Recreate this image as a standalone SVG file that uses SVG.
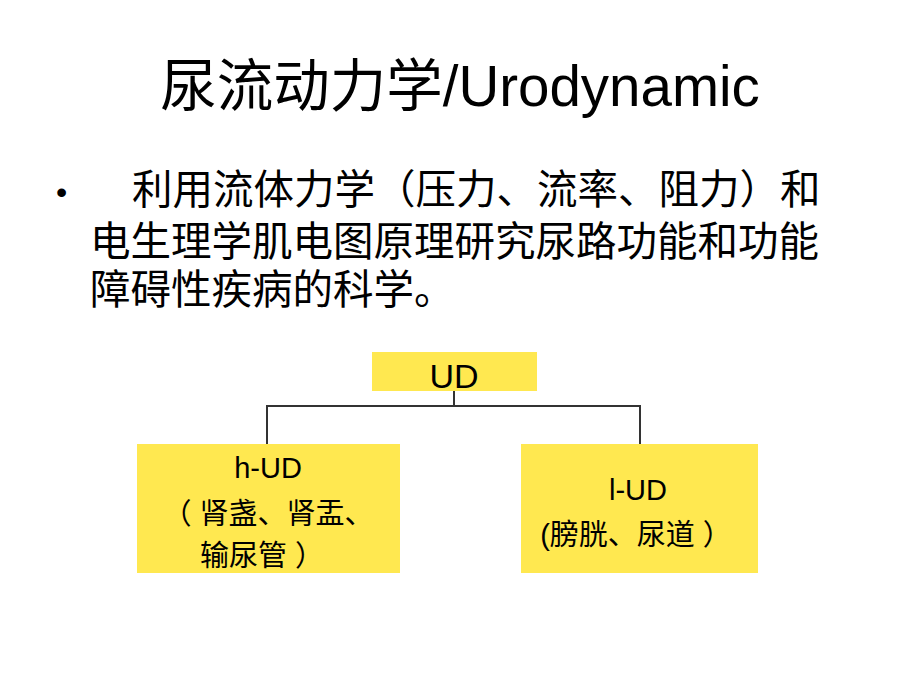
<svg xmlns="http://www.w3.org/2000/svg" width="920" height="690" viewBox="0 0 920 690">
<style>
text{font-family:"Liberation Sans","Noto Sans CJK SC",sans-serif;fill:#000}
.box{fill:#FFE850}
.c{stroke:#333;stroke-width:2;fill:none}
</style>
<rect width="920" height="690" fill="#fff"/>
<text x="460" y="106" font-size="56.5" text-anchor="middle">尿流动力学/Urodynamic</text>
<text x="56" y="203" font-size="32">•</text>
<text font-size="40.5"><tspan x="132" y="204">利用流体力学（压力、流率、阻力）和</tspan><tspan x="90" y="256">电生理学肌电图原理研究尿路功能和功能</tspan><tspan x="90" y="304">障碍性疾病的科学。</tspan></text>
<g id="connectors">
<path class="c" d="M454 391V406M267 444V406H640V444"/>
</g>
<g id="ud"><rect class="box" x="372" y="352" width="165" height="39"/><text x="454" y="388" font-size="34" text-anchor="middle">UD</text></g>
<g id="hud"><rect class="box" x="137" y="444" width="263" height="129"/>
<text font-size="29" text-anchor="middle"><tspan x="268" y="478">h-UD</tspan><tspan x="268" y="524">（ 肾盏、肾盂、</tspan><tspan x="262" y="566">输尿管 ）</tspan></text></g>
<g id="lud"><rect class="box" x="521" y="444" width="237" height="129"/>
<text font-size="29" text-anchor="middle"><tspan x="638" y="500">l-UD</tspan><tspan x="636" y="545">(膀胱、尿道 ）</tspan></text></g>
</svg>
